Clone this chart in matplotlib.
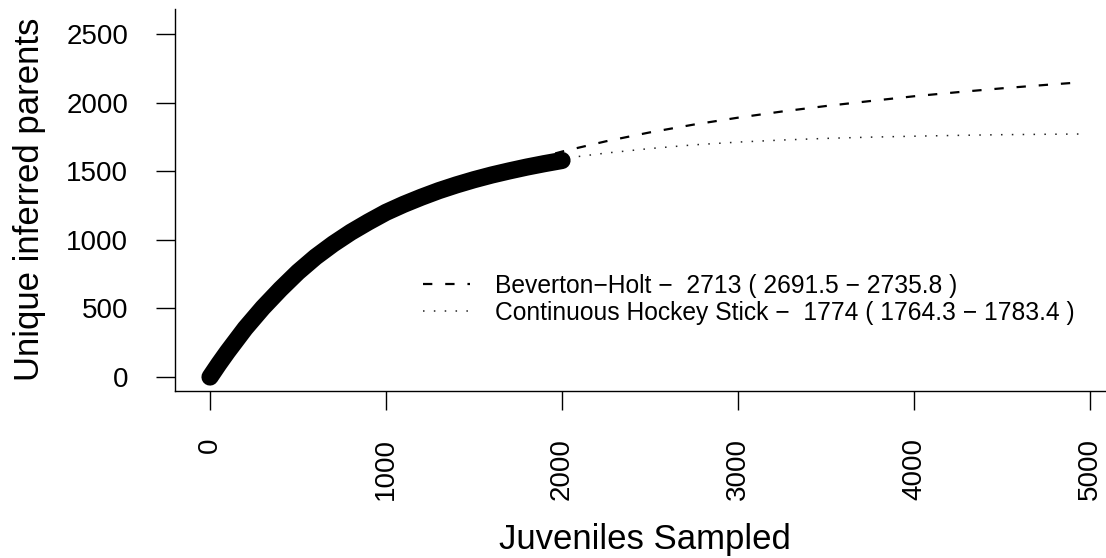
import matplotlib
matplotlib.use("Agg")
import matplotlib.pyplot as plt

plt.rcParams['font.family'] = ['Liberation Sans', 'DejaVu Sans']

# observed cumulative unique parents
juveniles = [0, 50, 100, 150, 200, 300, 400, 500, 600, 700, 800, 900, 1000,
             1100, 1200, 1300, 1400, 1500, 1600, 1700, 1800, 1900, 2000]
parents = [0, 95, 185, 270, 355, 505, 640, 765, 875, 970, 1055, 1130, 1200,
           1258, 1310, 1358, 1400, 1438, 1472, 1502, 1530, 1555, 1578]

# fitted curves, extrapolated past the sampled range
fit_x = [0, 250, 500, 750, 1000, 1250, 1500, 1750, 2000, 2250, 2500, 2750,
         3000, 3250, 3500, 3750, 4000, 4250, 4500, 4750, 4950]
bh_y = [0, 430, 752, 990, 1177, 1330, 1450, 1555, 1643, 1718, 1783, 1840,
        1890, 1935, 1975, 2011, 2046, 2076, 2104, 2129, 2148]
hs_y = [0, 430, 760, 1010, 1190, 1330, 1430, 1520, 1592, 1632, 1665, 1692,
        1712, 1727, 1739, 1748, 1755, 1761, 1766, 1769, 1771]

bh_label = "Beverton\u2212Holt \u2212  2713 ( 2691.5 \u2212 2735.8 )"
hs_label = "Continuous Hockey Stick \u2212  1774 ( 1764.3 \u2212 1783.4 )"

fig = plt.figure(figsize=(11.06, 5.58), dpi=100)
ax = fig.add_axes([175 / 1106, 1 - 391 / 558, (1106 - 175) / 1106, (391 - 9) / 558])

ax.plot(fit_x, bh_y, color='black', lw=1.6, dashes=(4.2, 5.8), label=bh_label, zorder=2)
ax.plot(fit_x, hs_y, color='#222222', lw=1.1, dashes=(1.0, 6.1), label=hs_label, zorder=2)
ax.plot(juveniles, parents, color='black', lw=12.4, solid_capstyle='round',
        solid_joinstyle='round', zorder=3)

ax.set_xlim(-199, 5091)
ax.set_ylim(-102, 2682)
ax.set_xticks([0, 1000, 2000, 3000, 4000, 5000])
ax.set_yticks([0, 500, 1000, 1500, 2000, 2500])
ax.tick_params(axis='both', length=13.7, width=1.0, pad=20, labelsize=20, colors='black')
ax.tick_params(axis='x', labelrotation=90)

for side in ['top', 'right']:
    ax.spines[side].set_visible(False)
for side in ['left', 'bottom']:
    ax.spines[side].set_linewidth(1.0)

fig.text(30 / 1106, 1 - 199 / 558, "Unique inferred parents", rotation=90,
         ha='center', va='center', fontsize=25)
fig.text(645 / 1106, 1 - 540 / 558, "Juveniles Sampled",
         ha='center', va='center', fontsize=25)

ax.legend(loc='upper left', bbox_to_anchor=(423 / 1106, 1 - 274 / 558),
          bbox_transform=fig.transFigure, frameon=False, fontsize=17.7,
          borderpad=0, borderaxespad=0, handlelength=1.91, handletextpad=1.0,
          labelspacing=0.12)

fig.savefig("out.png", dpi=100)
